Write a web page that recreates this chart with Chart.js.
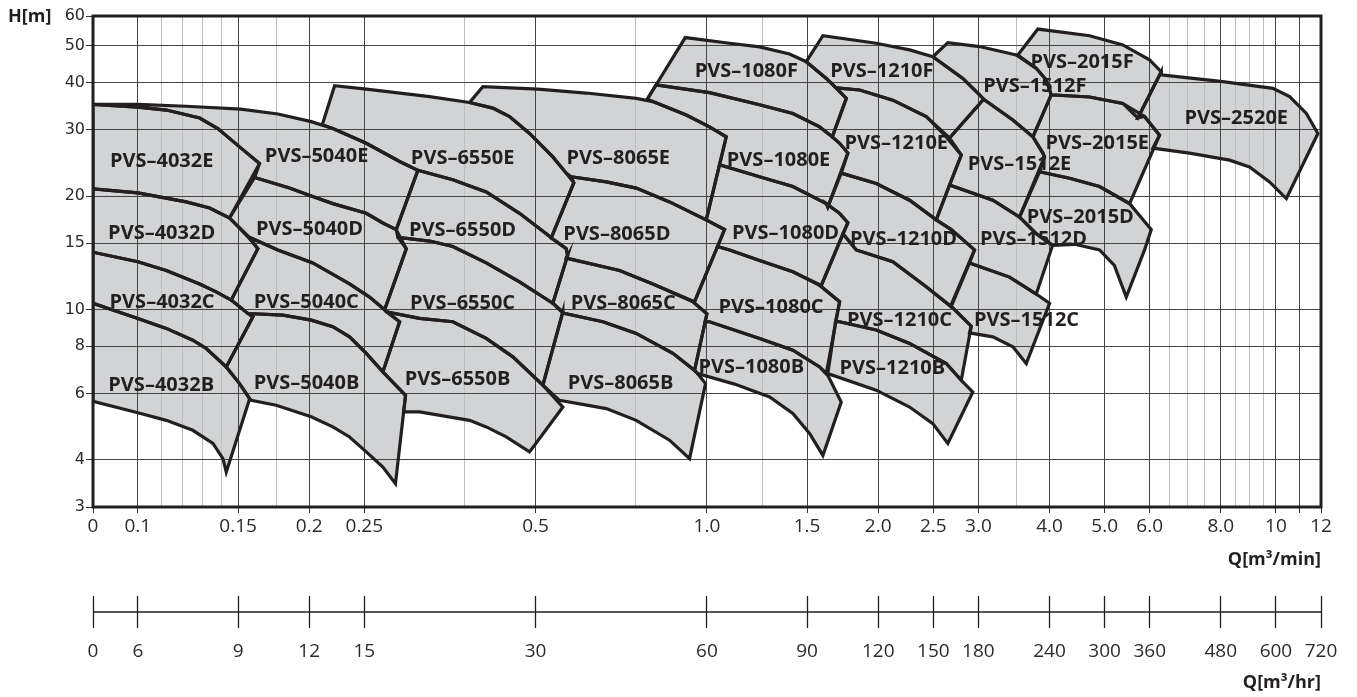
<!DOCTYPE html>
<html><head><meta charset="utf-8">
<script src="https://cdn.jsdelivr.net/npm/chart.js@4.4.1/dist/chart.umd.min.js"></script>
<style>html,body{margin:0;padding:0;background:#fff;}canvas{display:block;}</style>
</head><body>
<canvas id="c" width="1357" height="697"></canvas>
<script>
// ---- Region outlines: [Q m3/min, H m] ----
const PVS_4032E = [[0.0834,35.0],[0.1,34.4],[0.1122,33.8],[0.1284,32.2],[0.1382,30.2],[0.1509,27.0],[0.1636,24.4],[0.1449,17.5],[0.1337,18.6],[0.1216,19.3],[0.1,20.4],[0.0834,20.9]];
const PVS_4032D = [[0.0834,20.9],[0.1,20.4],[0.1216,19.3],[0.1337,18.6],[0.1449,17.5],[0.1561,15.6],[0.1625,14.5],[0.1459,10.6],[0.1373,11.15],[0.1284,11.7],[0.1122,12.7],[0.1,13.4],[0.0834,14.2]];
const PVS_4032C = [[0.0834,14.2],[0.1,13.4],[0.1122,12.7],[0.1284,11.7],[0.1373,11.15],[0.1459,10.6],[0.1561,9.77],[0.1593,9.57],[0.1430,7.05],[0.1319,7.89],[0.1249,8.30],[0.1122,8.92],[0.1,9.48],[0.0834,10.4]];
const PVS_4032B = [[0.0834,10.4],[0.1,9.48],[0.1122,8.92],[0.1249,8.30],[0.1319,7.89],[0.1430,7.05],[0.1509,6.37],[0.1572,5.81],[0.1430,3.71],[0.1411,4.03],[0.1355,4.42],[0.1249,4.79],[0.1122,5.09],[0.1,5.33],[0.0834,5.72]];
const PVS_5040E = [[0.0834,35.0],[0.1,35.0],[0.1216,34.6],[0.1516,34.0],[0.1762,33.0],[0.2017,31.5],[0.2201,30.2],[0.2520,27.6],[0.2884,24.7],[0.3105,23.4],[0.2845,16.3],[0.2695,16.97],[0.2520,18.0],[0.2201,19.1],[0.2017,20.0],[0.1847,21.0],[0.1604,22.4],[0.1636,24.4],[0.1509,27.0],[0.1382,30.2],[0.1284,32.2],[0.1122,33.8],[0.1,34.4]];
const PVS_5040D = [[0.1604,22.4],[0.1847,21.0],[0.2017,20.0],[0.2201,19.1],[0.2520,18.0],[0.2695,16.97],[0.2845,16.3],[0.2963,14.5],[0.2714,10.0],[0.2554,10.8],[0.2355,11.7],[0.2030,13.3],[0.1762,14.4],[0.1570,15.55],[0.1449,17.5]];
const PVS_5040C = [[0.1570,15.55],[0.1762,14.4],[0.2030,13.3],[0.2355,11.7],[0.2554,10.8],[0.2714,10.0],[0.2884,9.29],[0.2695,6.84],[0.2520,7.66],[0.2355,8.47],[0.2201,9.01],[0.2017,9.38],[0.1798,9.67],[0.1561,9.77],[0.1459,10.6],[0.1625,14.5]];
const PVS_5040B = [[0.1561,9.77],[0.1798,9.67],[0.2017,9.38],[0.2201,9.01],[0.2355,8.47],[0.2520,7.66],[0.2695,6.84],[0.2954,5.93],[0.2836,3.46],[0.2695,3.83],[0.2520,4.20],[0.2355,4.60],[0.2201,4.89],[0.2017,5.20],[0.1750,5.58],[0.1582,5.75],[0.1572,5.81],[0.1509,6.37],[0.1430,7.05],[0.1593,9.57]];
const PVS_6550E = [[0.2109,30.9],[0.2217,39.2],[0.2520,38.4],[0.3256,36.7],[0.3827,35.4],[0.4205,34.2],[0.4500,32.5],[0.4879,29.3],[0.5361,25.4],[0.5660,23.0],[0.5837,21.7],[0.5327,15.5],[0.5220,15.9],[0.4685,18.0],[0.4095,20.5],[0.3577,22.1],[0.3105,23.4],[0.2884,24.7],[0.2520,27.6],[0.2201,30.2]];
const PVS_6550D = [[0.3105,23.4],[0.3577,22.1],[0.4095,20.5],[0.4685,18.0],[0.5220,15.9],[0.5327,15.5],[0.5660,14.5],[0.5690,13.9],[0.5361,10.4],[0.4685,11.85],[0.4095,13.3],[0.3577,14.7],[0.3256,15.2],[0.2864,15.55],[0.2845,16.3]];
const PVS_6550C = [[0.2864,15.55],[0.3256,15.2],[0.3577,14.7],[0.4095,13.3],[0.4685,11.85],[0.5361,10.4],[0.5583,9.87],[0.5149,6.31],[0.4560,7.50],[0.4095,8.39],[0.3577,9.29],[0.3127,9.48],[0.2732,9.87],[0.2714,10.0],[0.2963,14.5]];
const PVS_6550B = [[0.2732,9.87],[0.3127,9.48],[0.3577,9.29],[0.4095,8.39],[0.4560,7.50],[0.5149,6.31],[0.5583,5.52],[0.4879,4.20],[0.4440,4.60],[0.4095,4.89],[0.3827,5.09],[0.3127,5.36],[0.2931,5.36],[0.2954,5.93],[0.2695,6.84],[0.2884,9.29]];
const PVS_8065E = [[0.3827,35.4],[0.4039,39.0],[0.5046,38.4],[0.6137,37.5],[0.7513,36.3],[0.8036,35.6],[0.9198,32.8],[1.0107,30.5],[1.0814,28.7],[0.9973,17.3],[0.8597,19.3],[0.7513,21.0],[0.6655,21.8],[0.5776,22.5],[0.5660,23.0],[0.5361,25.4],[0.4879,29.3],[0.4500,32.5],[0.4205,34.2]];
const PVS_8065D = [[0.5776,22.5],[0.6655,21.8],[0.7513,21.0],[0.8597,19.3],[0.9973,17.3],[1.0740,16.3],[0.9513,10.5],[0.8036,11.7],[0.7022,12.7],[0.5660,13.7],[0.5690,13.9],[0.5660,14.5],[0.5327,15.5],[0.5837,21.7]];
const PVS_8065C = [[0.5660,13.7],[0.7022,12.7],[0.8036,11.7],[0.9447,10.5],[1.0,9.75],[0.9513,6.91],[0.8713,7.66],[0.7513,8.65],[0.6564,9.29],[0.5583,9.8],[0.5361,10.4],[0.5690,13.9]];
const PVS_8065B = [[0.5583,9.8],[0.6564,9.29],[0.7513,8.65],[0.8713,7.66],[0.9578,6.84],[0.9945,6.37],[0.9322,4.03],[0.8597,4.51],[0.7513,5.09],[0.6655,5.47],[0.5509,5.75],[0.5149,6.31],[0.5583,9.87]];
const PVS_1080F = [[0.7856,36.1],[0.9161,52.6],[1.0960,50.8],[1.2376,49.7],[1.397,47.6],[1.495,45.4],[1.621,41.0],[1.758,36.3],[1.661,28.7],[1.578,30.5],[1.416,33.1],[1.2376,34.9],[1.0107,37.6],[0.8140,39.4]];
const PVS_1080E = [[0.8140,39.4],[1.0107,37.6],[1.2376,34.9],[1.416,33.1],[1.578,30.5],[1.661,28.7],[1.711,27.6],[1.769,26.0],[1.631,18.7],[1.621,19.1],[1.416,21.2],[1.2629,22.3],[1.0524,24.2],[1.0814,28.7],[1.0107,30.5],[0.9198,32.8],[0.8036,35.6],[0.7856,36.1]];
const PVS_1080D = [[1.0524,24.2],[1.2629,22.3],[1.416,21.2],[1.621,19.1],[1.711,18.0],[1.769,17.0],[1.589,11.6],[1.416,12.6],[1.2376,13.5],[1.0960,14.4],[1.0440,14.7],[1.0740,16.3],[0.9973,17.3]];
const PVS_1080C = [[1.0440,14.7],[1.0960,14.4],[1.2376,13.5],[1.416,12.6],[1.578,11.6],[1.711,10.5],[1.621,6.77],[1.578,7.05],[1.416,7.81],[1.2376,8.39],[1.0107,9.29],[0.9929,9.29],[1.0,9.75],[0.9447,10.5],[0.9513,10.5]];
const PVS_1080B = [[0.9929,9.29],[1.0107,9.29],[1.2376,8.39],[1.416,7.81],[1.578,7.05],[1.631,6.70],[1.722,5.69],[1.599,4.11],[1.515,4.70],[1.416,5.31],[1.2888,5.87],[1.1184,6.35],[0.9629,6.77],[0.9513,6.91]];
const PVS_1210F = [[1.495,45.4],[1.599,53.2],[1.984,50.8],[2.271,48.8],[2.495,46.8],[2.817,41.0],[3.014,37.1],[3.064,36.1],[2.669,28.5],[2.429,32.5],[2.122,35.9],[1.855,38.2],[1.688,38.7],[1.621,41.0]];
const PVS_1210E = [[1.688,38.7],[1.855,38.2],[2.122,35.9],[2.429,32.5],[2.634,28.7],[2.799,25.7],[2.529,17.3],[2.271,19.5],[1.984,21.6],[1.722,23.0],[1.769,26.0],[1.711,27.6],[1.661,28.7],[1.758,36.3]];
const PVS_1210D = [[1.722,23.0],[1.984,21.6],[2.271,19.5],[2.529,17.3],[2.688,16.3],[2.953,14.4],[2.680,10.2],[2.429,11.5],[2.122,13.4],[1.830,14.4],[1.734,15.9],[1.769,17.0],[1.711,18.0],[1.621,19.1],[1.631,18.7]];
const PVS_1210C = [[1.734,15.9],[1.830,14.4],[2.122,13.4],[2.429,11.5],[2.688,10.2],[2.914,9.04],[2.799,6.5],[2.634,7.2],[2.271,8.14],[1.984,8.83],[1.711,9.29],[1.683,9.29],[1.711,10.5],[1.578,11.6],[1.589,11.6]];
const PVS_1210B = [[1.683,9.29],[1.711,9.29],[1.984,8.83],[2.271,8.14],[2.634,7.2],[2.799,6.5],[2.933,6.05],[2.651,4.42],[2.495,4.99],[2.271,5.52],[1.984,6.12],[1.631,6.77]];
const PVS_1512F = [[2.495,46.8],[2.651,51.0],[3.014,49.8],[3.496,47.3],[3.791,43.6],[3.948,40.6],[4.028,37.1],[3.740,28.7],[3.449,31.8],[3.064,36.1],[3.014,37.1],[2.817,41.0]];
const PVS_1512E = [[3.064,36.1],[3.449,31.8],[3.740,28.7],[3.894,26.0],[3.920,25.4],[3.543,17.6],[3.181,19.5],[2.669,21.4],[2.799,25.7],[2.669,28.5]];
const PVS_1512D = [[2.669,21.4],[3.181,19.5],[3.543,17.6],[3.791,15.9],[4.050,14.8],[3.791,11.0],[3.403,12.2],[2.894,13.3],[2.953,14.4],[2.688,16.3],[2.529,17.3]];
const PVS_1512C = [[2.894,13.3],[3.403,12.2],[3.791,11.0],[4.001,10.4],[3.641,7.2],[3.449,7.97],[3.181,8.47],[2.894,8.68],[2.914,9.04],[2.688,10.2]];
const PVS_2015F = [[3.519,47.3],[3.816,55.4],[4.704,53.2],[5.382,50.3],[5.996,45.9],[6.287,42.7],[5.719,32.2],[5.382,35.2],[4.704,36.6],[4.028,37.1],[3.948,40.6],[3.791,43.6]];
const PVS_2015E = [[4.028,37.1],[4.704,36.6],[5.382,35.2],[5.876,32.5],[6.244,29.0],[5.530,19.1],[4.898,21.2],[4.338,22.3],[3.842,23.2],[3.920,25.4],[3.894,26.0],[3.740,28.7]];
const PVS_2015D = [[3.842,23.2],[4.338,22.3],[4.898,21.2],[5.530,19.1],[6.038,16.3],[5.876,14.4],[5.457,10.8],[5.20,13.1],[4.898,14.4],[4.43,14.9],[4.050,14.8],[3.791,15.9],[3.543,17.6]];
const PVS_2520E = [[6.287,41.9],[8.066,40.2],[9.875,38.6],[10.57,36.7],[11.31,33.1],[11.85,29.3],[10.43,19.7],[9.744,21.8],[8.987,23.9],[8.289,24.9],[7.051,26.0],[6.077,26.8],[6.244,29.0],[5.876,32.5],[5.719,32.2],[6.287,42.7]];

const REGIONS = [PVS_4032E,PVS_4032D,PVS_4032C,PVS_4032B,PVS_5040E,PVS_5040D,PVS_5040C,PVS_5040B,
  PVS_6550E,PVS_6550D,PVS_6550C,PVS_6550B,PVS_8065E,PVS_8065D,PVS_8065C,PVS_8065B,
  PVS_1080F,PVS_1080E,PVS_1080D,PVS_1080C,PVS_1080B,PVS_1210F,PVS_1210E,PVS_1210D,PVS_1210C,PVS_1210B,
  PVS_1512F,PVS_1512E,PVS_1512D,PVS_1512C,PVS_2015F,PVS_2015E,PVS_2015D,PVS_2520E];

// ---- Region labels ----
const LABEL_TEXT = ['PVS–4032E','PVS–4032D','PVS–4032C','PVS–4032B','PVS–5040E','PVS–5040D','PVS–5040C','PVS–5040B',
  'PVS–6550E','PVS–6550D','PVS–6550C','PVS–6550B','PVS–8065E','PVS–8065D','PVS–8065C','PVS–8065B',
  'PVS–1080F','PVS–1080E','PVS–1080D','PVS–1080C','PVS–1080B','PVS–1210F','PVS–1210E','PVS–1210D','PVS–1210C','PVS–1210B',
  'PVS–1512F','PVS–1512E','PVS–1512D','PVS–1512C','PVS–2015F','PVS–2015E','PVS–2015D','PVS–2520E'];
const LABEL_Q = [0.1101,0.1101,0.1103,0.1099,0.2061,0.2003,0.1977,0.1979,
  0.3721,0.3721,0.3721,0.3646,0.6986,0.6947,0.7129,0.7051,
  1.1727,1.3364,1.3749,1.2963,1.1967,2.030,2.152,2.216,2.180,2.118,
  3.770,3.543,3.750,3.645,4.563,4.853,4.532,8.517];
const LABEL_H = [24.8,15.96,10.47,6.29,25.5,16.35,10.47,6.38,
  25.2,16.2,10.41,6.52,25.2,15.86,10.41,6.40,
  42.7,24.85,15.9,10.13,7.02,42.7,27.65,15.39,9.38,7.0,
  39.0,24.35,15.39,9.35,45.2,27.57,17.6,32.2];

// ---- Axes ----
const X_TICKS = [0.0834,0.1,0.11,0.12,0.13,0.14,0.15,0.175,0.2,0.25,0.375,0.5,0.75,1.0,1.25,1.5,2.0,2.5,3.0,3.5,4.0,5.0,6.0,6.5,7.0,7.5,8.0,8.5,9.0,9.5,10,11,12];
const X_TICK_LABELS = ['0','0.1','','','','','0.15','','0.2','0.25','','0.5','','1.0','','1.5','2.0','2.5','3.0','','4.0','5.0','6.0','','','','8.0','','','','10','','12'];
const X_MINOR = [0.11,0.12,0.13,0.14,0.175,0.375,0.75,1.25,3.5,6.5,7.0,7.5,8.5,9.0,9.5];
const X2_TICKS = [5.004,6,9,12,15,30,60,90,120,150,180,240,300,360,480,600,720];
const X2_TICK_LABELS = ['0','6','9','12','15','30','60','90','120','150','180','240','300','360','480','600','720'];
const Y_TICKS = [3,4,6,8,10,15,20,30,40,50,60];

const INK = '#231f20';
const FILL = '#d2d3d5';
const FONT = "'Open Sans', 'DejaVu Sans', sans-serif";

const fillPlugin = {
  id: 'regionFill',
  beforeDraw(chart) {
    const ctx = chart.ctx, a = chart.chartArea;
    ctx.save();
    ctx.beginPath(); ctx.rect(a.left, a.top, a.right - a.left, a.bottom - a.top); ctx.clip();
    ctx.fillStyle = FILL;
    chart.getSortedVisibleDatasetMetas().forEach(meta => {
      ctx.beginPath();
      meta.data.forEach((p, i) => i ? ctx.lineTo(p.x, p.y) : ctx.moveTo(p.x, p.y));
      ctx.closePath(); ctx.fill();
    });
    ctx.restore();
  }
};

const decoPlugin = {
  id: 'deco',
  afterDatasetsDraw(chart) {
    const ctx = chart.ctx, a = chart.chartArea;
    const xs = chart.scales.x, ys = chart.scales.y, x2 = chart.scales.x2;
    ctx.save();
    // frame
    ctx.strokeStyle = INK; ctx.lineWidth = 3;
    ctx.strokeRect(a.left, a.top, a.right - a.left, a.bottom - a.top);
    // region labels
    ctx.fillStyle = INK; ctx.font = "bold 20px " + FONT;
    ctx.textAlign = 'center'; ctx.textBaseline = 'middle';
    LABEL_TEXT.forEach((t, i) => ctx.fillText(t, xs.getPixelForValue(LABEL_Q[i]), ys.getPixelForValue(LABEL_H[i])));
    // y axis title
    ctx.font = "bold 18px " + FONT; ctx.textAlign = 'left';
    ctx.fillText('H[m]', 8, ys.getPixelForValue(60) + 1);
    // m3/hr axis line
    ctx.lineWidth = 1.5;
    ctx.beginPath(); ctx.moveTo(x2.left, x2.top + 16); ctx.lineTo(x2.right, x2.top + 16); ctx.stroke();
    ctx.restore();
  }
};

const isMinor = v => X_MINOR.some(m => Math.abs(m - v) < 1e-6);

new Chart(document.getElementById('c'), {
  type: 'scatter',
  data: {
    datasets: REGIONS.map(r => ({
      data: r.concat([r[0]]).map(([x, y]) => ({x, y})),
      showLine: true, fill: false, borderColor: INK, borderWidth: 3.2,
      pointRadius: 0, pointHoverRadius: 0, tension: 0,
      borderJoinStyle: 'miter', borderCapStyle: 'round'
    }))
  },
  options: {
    responsive: false, animation: false, events: [],
    layout: {padding: {left: 33, right: 36, top: 16, bottom: 0}},
    plugins: {legend: {display: false}, tooltip: {enabled: false}},
    scales: {
      x: {
        type: 'logarithmic', position: 'bottom', weight: 0, min: 0.0834, max: 12,
        afterBuildTicks: s => { s.ticks = X_TICKS.map(v => ({value: v})); },
        afterFit: s => { s.height = 89; },
        ticks: {autoSkip: false, maxRotation: 0, padding: 2, color: '#2b2b2b',
          font: {family: FONT, size: 19}, callback: (v, i) => X_TICK_LABELS[i]},
        grid: {color: c => isMinor(c.tick.value) ? '#bdbdbd' : '#454545',
          tickColor: c => isMinor(c.tick.value) ? 'rgba(0,0,0,0)' : '#333', tickLength: 6, lineWidth: 1},
        border: {display: false},
        title: {display: true, text: 'Q[m³/min]', align: 'end', color: INK,
          font: {family: FONT, size: 18, weight: 'bold'}, padding: {top: 0, bottom: 25}}
      },
      x2: {
        type: 'logarithmic', position: 'bottom', weight: 1, min: 5.004, max: 720,
        afterBuildTicks: s => { s.ticks = X2_TICKS.map(v => ({value: v})); },
        afterFit: s => { s.height = 101; },
        ticks: {autoSkip: false, maxRotation: 0, padding: 12, color: '#2b2b2b',
          font: {family: FONT, size: 19}, callback: (v, i) => X2_TICK_LABELS[i]},
        grid: {drawOnChartArea: false, drawTicks: true, tickLength: 32, tickColor: INK, tickWidth: 1.3, color: INK},
        border: {display: false},
        title: {display: true, text: 'Q[m³/hr]', align: 'end', color: INK,
          font: {family: FONT, size: 18, weight: 'bold'}, padding: {top: 0, bottom: 3}}
      },
      y: {
        type: 'logarithmic', position: 'left', min: 3, max: 60,
        afterBuildTicks: s => { s.ticks = Y_TICKS.map(v => ({value: v})); },
        afterFit: s => { s.width = 60; },
        ticks: {autoSkip: false, padding: 1, color: '#2b2b2b',
          font: {family: "'DejaVu Sans', sans-serif", size: 16}, callback: v => String(v)},
        grid: {color: '#454545', tickColor: '#333', tickLength: 7, lineWidth: 1},
        border: {display: false}
      }
    }
  },
  plugins: [fillPlugin, decoPlugin]
});
</script>
</body></html>
